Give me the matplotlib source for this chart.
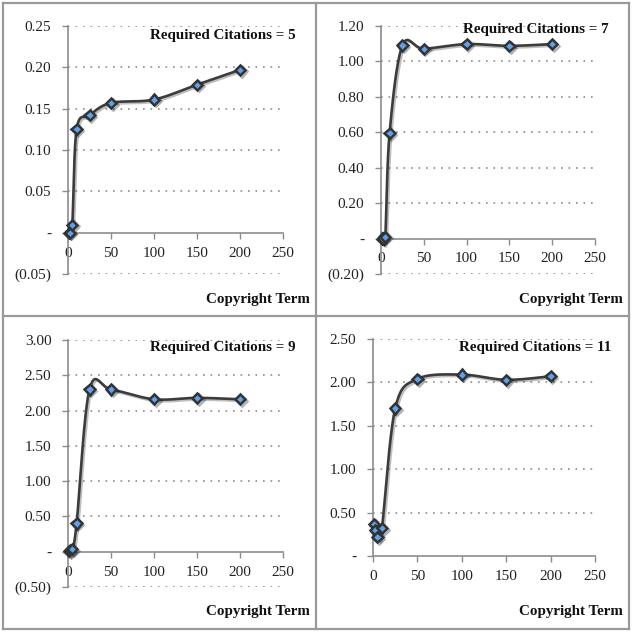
import numpy as np
import matplotlib
matplotlib.use("Agg")
import matplotlib.pyplot as plt
from matplotlib.ticker import FuncFormatter
from matplotlib.lines import Line2D
import matplotlib.patheffects as pe

plt.rcParams['font.family'] = ['Liberation Serif', 'DejaVu Serif']

# copyright term (x) for every panel
terms = [1, 2, 5, 10, 25, 50, 100, 150, 200]

# values, one list per panel
cit5 = [0.0, 0.0, 0.0096, 0.125, 0.142, 0.157, 0.161, 0.179, 0.197]
cit7 = [0.0, 0.0, 0.011, 0.594, 1.09, 1.072, 1.098, 1.088, 1.098]
cit9 = [0.01, 0.02, 0.04, 0.40, 2.30, 2.30, 2.16, 2.18, 2.16]
cit11 = [0.37, 0.30, 0.22, 0.32, 1.70, 2.04, 2.09, 2.03, 2.07]

titles = ["Required Citations = 5", "Required Citations = 7",
          "Required Citations = 9", "Required Citations = 11"]
series = [cit5, cit7, cit9, cit11]
y_ticks = [np.arange(-0.05, 0.2501, 0.05),
           np.arange(-0.20, 1.2001, 0.20),
           np.arange(-0.50, 3.0001, 0.50),
           np.arange(0.0, 2.5001, 0.50)]
x_ticks = [0, 50, 100, 150, 200, 250]

W = 633.0
# axes boxes in pixels: left, right, top, bottom
boxes = [(68, 283, 26, 274), (381, 595, 26, 274),
         (68, 283, 340, 587), (373, 595, 339, 556)]
# title right edge / y center, xlabel right edge / y center
title_pos = [(296, 35), (609, 29), (296, 348), (611, 348)]
xlab_pos = [(310, 300), (623, 300), (310, 612), (623, 612)]


def yfmt(v, pos):
    if abs(v) < 1e-9:
        return "-"
    if v < 0:
        return "(%.2f)" % abs(v)
    return "%.2f" % v


def smooth(ax, xs, ys, n=30):
    # excel-like bezier smoothing done in screen space
    pts = ax.transData.transform(np.column_stack([xs, ys]))
    out = [pts[0]]
    m = len(pts)
    for i in range(m - 1):
        p0 = pts[max(i - 1, 0)]
        p1 = pts[i]
        p2 = pts[i + 1]
        p3 = pts[min(i + 2, m - 1)]
        c1 = p1 + (p2 - p0) / 6.0
        c2 = p2 - (p3 - p1) / 6.0
        t = np.linspace(0, 1, n)[1:, None]
        seg = ((1 - t) ** 3) * p1 + 3 * ((1 - t) ** 2) * t * c1 \
            + 3 * (1 - t) * t ** 2 * c2 + t ** 3 * p2
        out.extend(seg)
    out = np.array(out)
    back = ax.transData.inverted().transform(out)
    return back[:, 0], back[:, 1]


fig = plt.figure(figsize=(6.33, 6.33), dpi=100)

for k in range(4):
    l, r, t, b = boxes[k]
    ax = fig.add_axes([l / W, 1 - b / W, (r - l) / W, (b - t) / W])
    yt = y_ticks[k]
    ax.set_xlim(0, 250)
    ax.set_ylim(yt[0], yt[-1])
    ax.set_yticks(yt)
    ax.set_xticks(x_ticks)
    ax.yaxis.set_major_formatter(FuncFormatter(yfmt))

    for s in ['top', 'right']:
        ax.spines[s].set_visible(False)
    ax.spines['bottom'].set_position(('data', 0))
    for s in ['left', 'bottom']:
        ax.spines[s].set_color('#8c8c8c')
        ax.spines[s].set_linewidth(1.2)

    for v in yt:
        if abs(v) > 1e-9:
            ax.axhline(v, color='#8c8c8c', lw=1.2, ls=(0, (1, 3.5)), zorder=1)

    ax.tick_params(axis='y', length=4, width=1.0, color='#8c8c8c', pad=8,
                   labelsize=11, labelcolor='#222222')
    ax.tick_params(axis='x', length=4, width=1.0, color='#8c8c8c', pad=6,
                   labelsize=11, labelcolor='#222222', direction='out')

    sx, sy = smooth(ax, terms, series[k])
    ax.plot(sx, sy, color='#3c3c3c', lw=1.9, zorder=3,
            path_effects=[pe.SimpleLineShadow(offset=(1.2, -1.2), alpha=0.25),
                          pe.Normal()])
    ax.plot(terms, series[k], ls='none', marker='D', ms=5.2,
            mfc='#5aa2f2', mec='#333333', mew=1.8, zorder=4, clip_on=False,
            path_effects=[pe.SimpleLineShadow(offset=(1.2, -1.2), alpha=0.3),
                          pe.Normal()])

    tx, ty = title_pos[k]
    fig.text(tx / W, 1 - ty / W, titles[k], ha='right', va='center',
             fontsize=10.8, fontweight='bold', color='#111111')
    lx, ly = xlab_pos[k]
    fig.text(lx / W, 1 - ly / W, "Copyright Term", ha='right', va='center',
             fontsize=10.8, fontweight='bold', color='#111111')

# panel frames
gc = '#9a9a9a'
for (x0, y0, x1, y1) in [(3, 3, 629, 3), (3, 629, 629, 629), (3, 3, 3, 629),
                         (629, 3, 629, 629), (316, 3, 316, 629), (3, 316, 629, 316)]:
    fig.add_artist(Line2D([x0 / W, x1 / W], [1 - y0 / W, 1 - y1 / W],
                          color=gc, lw=1.6))

fig.savefig("out.png", dpi=100)
